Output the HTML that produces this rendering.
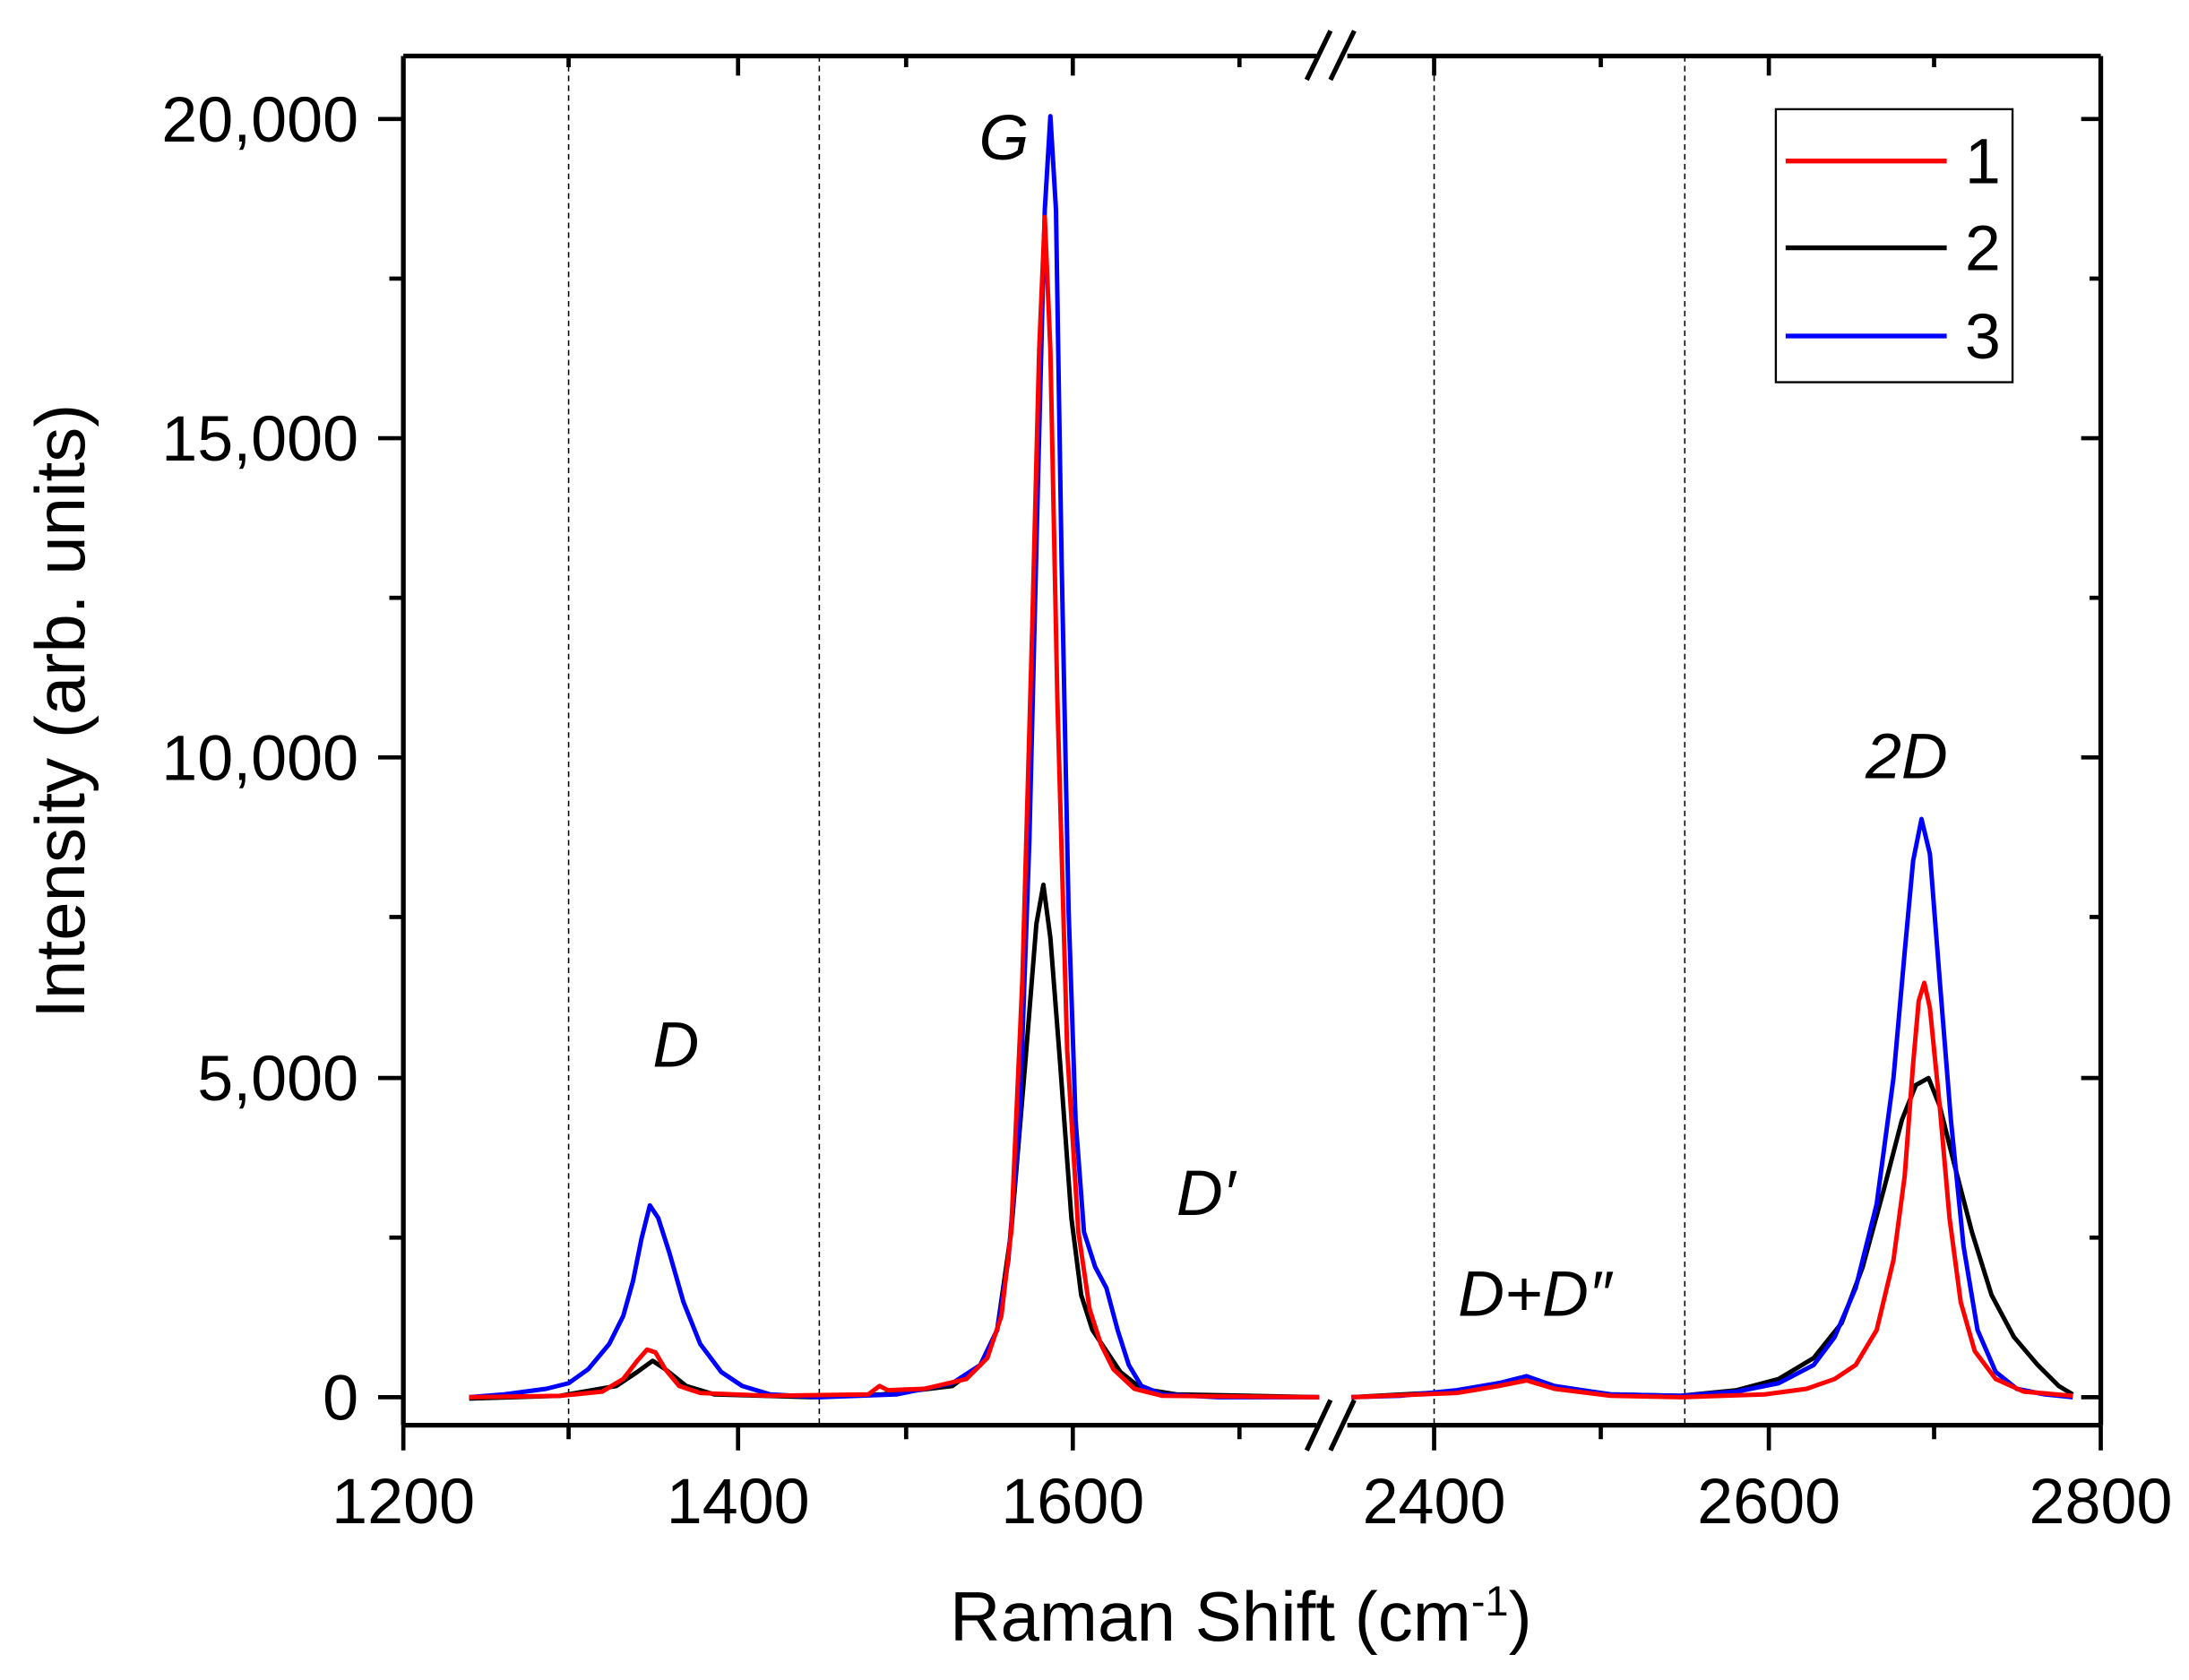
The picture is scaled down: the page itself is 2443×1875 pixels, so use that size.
<!DOCTYPE html>
<html><head><meta charset="utf-8"><style>html,body{margin:0;padding:0;background:#fff}svg{display:block}</style></head>
<body>
<svg width="2443" height="1875" viewBox="0 0 1563 1200" preserveAspectRatio="none" xmlns="http://www.w3.org/2000/svg" font-family="Liberation Sans, Arial, sans-serif">
<rect width="1563" height="1200" fill="#fff"/>
<g stroke="#000" stroke-width="1" stroke-dasharray="4,3">
<line x1="406" y1="40" x2="406" y2="1018"/><line x1="585" y1="40" x2="585" y2="1018"/>
<line x1="1024" y1="40" x2="1024" y2="1018"/><line x1="1203" y1="40" x2="1203" y2="1018"/>
</g>
<g fill="none" stroke-width="3.2" stroke-linejoin="round">
<path stroke="#000" d="M335,999 L400,997 L440,990 L455,980 L466,972 L475,978 L490,990 L510,996 L580,998 L630,996 L680,990 L700,975 L712,950 L722,880 L732,760 L740,660 L745,632 L750,670 L757,760 L765,870 L772,925 L780,950 L790,965 L800,980 L815,992 L840,996 L942,998"/>
<path stroke="#000" d="M965,998 L1040,994 L1070,988 L1090,985 L1110,991 L1150,996 L1200,997 L1240,993 L1270,985 L1295,970 L1315,945 L1330,905 L1345,850 L1358,800 L1368,775 L1377,770 L1385,790 L1395,830 L1408,880 L1422,925 L1438,955 L1455,975 L1470,990 L1480,996"/>
<path stroke="#00f" d="M335,998 L360,996 L390,992 L406,988 L420,978 L435,960 L445,940 L452,915 L458,885 L464,861 L470,870 L478,895 L488,930 L500,960 L515,980 L530,990 L550,996 L585,998 L640,996 L680,988 L700,975 L712,950 L720,900 L728,800 L735,600 L741,350 L746,150 L750,83 L754,150 L758,400 L763,650 L768,800 L774,880 L782,905 L790,920 L798,950 L806,975 L815,990 L830,996 L870,998 L942,998"/>
<path stroke="#00f" d="M965,998 L1000,997 L1040,993 L1070,988 L1090,983 L1110,990 L1150,996 L1200,997 L1240,994 L1270,988 L1295,975 L1310,955 L1325,920 L1340,860 L1352,770 L1360,680 L1366,615 L1372,585 L1378,610 L1385,700 L1393,800 L1402,890 L1412,950 L1425,980 L1440,992 L1460,996 L1480,998"/>
<path stroke="#f00" d="M335,998 L400,997 L430,994 L445,985 L455,972 L462,964 L468,966 L475,978 L485,990 L500,995 L550,997 L620,996 L628,990 L634,993 L660,992 L690,985 L705,970 L715,940 L722,880 L730,700 L737,450 L742,250 L746,155 L750,250 L755,500 L762,750 L770,880 L778,935 L786,960 L795,978 L810,992 L830,997 L942,998"/>
<path stroke="#f00" d="M965,998 L1040,995 L1070,990 L1090,986 L1110,992 L1150,997 L1200,998 L1260,996 L1290,992 L1310,985 L1325,975 L1340,950 L1352,900 L1360,840 L1366,760 L1370,715 L1374,702 L1378,720 L1385,790 L1392,870 L1400,930 L1410,965 L1425,985 L1445,994 L1480,997"/>
</g>
<g stroke="#000" stroke-width="3.4" fill="none">
<line x1="288" y1="40" x2="940" y2="40"/><line x1="962" y1="40" x2="1500" y2="40"/>
<line x1="288" y1="1018" x2="940" y2="1018"/><line x1="962" y1="1018" x2="1500" y2="1018"/>
<line x1="288" y1="40" x2="288" y2="1018"/><line x1="1500" y1="40" x2="1500" y2="1018"/>
<line x1="933" y1="57" x2="950" y2="22"/><line x1="950" y1="57" x2="967" y2="22"/>
<line x1="933" y1="1036" x2="950" y2="1000"/><line x1="950" y1="1036" x2="967" y2="1000"/>
</g>
<g stroke="#000" stroke-width="3">
<line x1="288" y1="1018" x2="288" y2="1036"/><line x1="527" y1="1018" x2="527" y2="1036"/><line x1="766" y1="1018" x2="766" y2="1036"/><line x1="1024" y1="1018" x2="1024" y2="1036"/><line x1="1263" y1="1018" x2="1263" y2="1036"/><line x1="1500" y1="1018" x2="1500" y2="1036"/>
<line x1="406" y1="1018" x2="406" y2="1028"/><line x1="647" y1="1018" x2="647" y2="1028"/><line x1="885" y1="1018" x2="885" y2="1028"/><line x1="1143" y1="1018" x2="1143" y2="1028"/><line x1="1381" y1="1018" x2="1381" y2="1028"/>
<line x1="527" y1="40" x2="527" y2="54"/><line x1="766" y1="40" x2="766" y2="54"/><line x1="1024" y1="40" x2="1024" y2="54"/><line x1="1263" y1="40" x2="1263" y2="54"/>
<line x1="406" y1="40" x2="406" y2="48"/><line x1="647" y1="40" x2="647" y2="48"/><line x1="885" y1="40" x2="885" y2="48"/><line x1="1143" y1="40" x2="1143" y2="48"/><line x1="1381" y1="40" x2="1381" y2="48"/>
<line x1="270" y1="998" x2="288" y2="998"/><line x1="270" y1="770" x2="288" y2="770"/><line x1="270" y1="541" x2="288" y2="541"/><line x1="270" y1="313" x2="288" y2="313"/><line x1="270" y1="85" x2="288" y2="85"/>
<line x1="278" y1="884" x2="288" y2="884"/><line x1="278" y1="655" x2="288" y2="655"/><line x1="278" y1="427" x2="288" y2="427"/><line x1="278" y1="199" x2="288" y2="199"/>
<line x1="1486" y1="998" x2="1500" y2="998"/><line x1="1486" y1="770" x2="1500" y2="770"/><line x1="1486" y1="541" x2="1500" y2="541"/><line x1="1486" y1="313" x2="1500" y2="313"/><line x1="1486" y1="85" x2="1500" y2="85"/>
<line x1="1492" y1="884" x2="1500" y2="884"/><line x1="1492" y1="655" x2="1500" y2="655"/><line x1="1492" y1="427" x2="1500" y2="427"/><line x1="1492" y1="199" x2="1500" y2="199"/>
</g>
<g font-size="46" text-anchor="end" fill="#000">
<text x="256" y="1014">0</text><text x="256" y="786">5,000</text><text x="256" y="557">10,000</text><text x="256" y="329">15,000</text><text x="256" y="101">20,000</text>
</g>
<g font-size="46" text-anchor="middle" fill="#000">
<text x="288" y="1088">1200</text><text x="527" y="1088">1400</text><text x="766" y="1088">1600</text>
<text x="1024" y="1088">2400</text><text x="1263" y="1088">2600</text><text x="1500" y="1088">2800</text>
<text x="886" y="1172" font-size="50">Raman Shift (cm<tspan font-size="30" dy="-18">-1</tspan><tspan dy="18">)</tspan></text>
<text transform="translate(60,508) rotate(-90)" font-size="50">Intensity (arb. units)</text>
</g>
<g font-size="46" font-style="italic" fill="#000">
<text x="699" y="114">G</text><text x="466" y="762">D</text><text x="840" y="868">D′</text>
<text x="1041" y="940">D+D″</text><text x="1332" y="556">2D</text>
</g>
<rect x="1268" y="78" width="169" height="195" fill="#fff" stroke="#000" stroke-width="1.5"/>
<g stroke-width="3.4"><line x1="1275" y1="115" x2="1390" y2="115" stroke="#f00"/><line x1="1275" y1="177" x2="1390" y2="177" stroke="#000"/><line x1="1275" y1="240" x2="1390" y2="240" stroke="#00f"/></g>
<g font-size="46" fill="#000"><text x="1403" y="131">1</text><text x="1403" y="193">2</text><text x="1403" y="256">3</text></g>
</svg>
</body></html>
